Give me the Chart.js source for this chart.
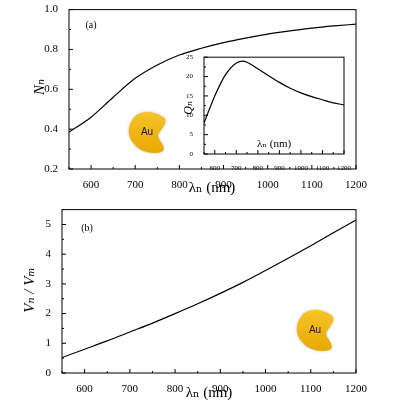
<!DOCTYPE html>
<html>
<head>
<meta charset="utf-8">
<script src="https://cdn.jsdelivr.net/npm/chart.js@4"></script>
<style>
body { margin: 0; background: #fff; }
#wrap { position: relative; width: 400px; height: 400px; }
canvas { position: absolute; }
</style>
</head>
<body>
<div id="wrap">
  <canvas id="topChart" style="left:0;top:0" width="400" height="200"></canvas>
  <canvas id="insetChart" style="left:175px;top:50px" width="180" height="120"></canvas>
  <canvas id="botChart" style="left:0;top:200px" width="400" height="200"></canvas>
</div>
<script>
// data
const lambda = [550, 600, 650, 700, 750, 800, 850, 900, 950, 1000, 1050, 1100, 1150, 1200];
const nValues = [0.385, 0.46, 0.56, 0.655, 0.722, 0.772, 0.806, 0.834, 0.857, 0.877, 0.893, 0.907, 0.918, 0.927];
const vValues = [0.52, 0.8, 1.08, 1.38, 1.68, 2.0, 2.33, 2.68, 3.05, 3.45, 3.86, 4.28, 4.72, 5.15];
const qLambda = [550, 600, 650, 700, 730, 750, 800, 850, 900, 950, 1000, 1050, 1100, 1150, 1200];
const qValues = [8, 15, 20.5, 23.5, 24, 23.7, 22, 20.2, 18.5, 17, 15.8, 14.8, 14, 13.2, 12.7];
const xTicks = [600, 700, 800, 900, 1000, 1100, 1200];
const nTicks = [0.2, 0.4, 0.6, 0.8, 1.0];
const vTicks = [0, 1, 2, 3, 4, 5];
const qTicks = [0, 5, 10, 15, 20, 25];

const serif = "'Liberation Serif', 'DejaVu Serif', serif";

function pts(xs, ys) {
    return xs.map((x, i) => ({ x: x, y: ys[i] }));
}

// box + inward ticks (major and minor) + free texts
const frame = {
    id: 'frame',
    afterDraw(chart, args, opts) {
        const c = chart.ctx, a = chart.chartArea;
        c.save();
        c.strokeStyle = '#000';
        c.lineWidth = 1;
        c.strokeRect(a.left, a.top, a.right - a.left, a.bottom - a.top);
        ['x', 'y'].forEach(id => {
            const s = chart.scales[id];
            const vals = s.ticks.map(t => t.value);
            const step = vals[1] - vals[0];
            const all = [];
            vals.forEach(v => { all.push([v, 4]); all.push([v - step / 2, 2]); });
            all.push([vals[vals.length - 1] + step / 2, 2]);
            all.forEach(([v, len]) => {
                if (v < s.min || v > s.max) return;
                const p = s.getPixelForValue(v);
                c.beginPath();
                if (id === 'x') { c.moveTo(p, a.bottom); c.lineTo(p, a.bottom - len); }
                else { c.moveTo(a.left, p); c.lineTo(a.left + len, p); }
                c.stroke();
            });
        });
        (opts.texts || []).forEach(t => {
            c.save();
            c.translate(t.x, t.y);
            if (t.rot) c.rotate(-Math.PI / 2);
            c.font = t.font;
            c.fillStyle = '#000';
            c.textAlign = 'center';
            c.textBaseline = 'middle';
            c.fillText(t.text, 0, 0);
            c.restore();
        });
        if (opts.blob) drawAu(c, opts.blob[0], opts.blob[1]);
        c.restore();
    }
};

function drawAu(c, x, y) {
    // gold nanoparticle sketch
    c.save();
    c.translate(x, y);
    const g = c.createLinearGradient(0, -20, 0, 22);
    g.addColorStop(0, '#f7c42a');
    g.addColorStop(1, '#e8a800');
    c.fillStyle = g;
    c.shadowColor = 'rgba(0,0,0,0.25)';
    c.shadowBlur = 3;
    c.beginPath();
    c.moveTo(-14, -12);
    c.bezierCurveTo(-8, -22, 8, -20, 16, -14);
    c.bezierCurveTo(22, -10, 16, -4, 12, 2);
    c.bezierCurveTo(8, 8, 20, 14, 16, 20);
    c.bezierCurveTo(10, 24, -6, 22, -12, 14);
    c.bezierCurveTo(-20, 6, -20, -4, -14, -12);
    c.closePath();
    c.fill();
    c.shadowBlur = 0;
    c.fillStyle = '#222';
    c.font = "10px 'Liberation Sans', sans-serif";
    c.textAlign = 'center';
    c.textBaseline = 'middle';
    c.fillText('Au', 0, 1);
    c.restore();
}

function makeChart(id, data, cfg) {
    return new Chart(document.getElementById(id), {
        type: 'line',
        data: { datasets: [{ data: data, borderColor: '#000', borderWidth: 1.2, pointRadius: 0, cubicInterpolationMode: 'monotone', fill: false }] },
        plugins: [frame],
        options: {
            responsive: false,
            animation: false,
            layout: { padding: cfg.padding },
            plugins: { legend: { display: false }, tooltip: { enabled: false }, frame: cfg.frame },
            scales: {
                x: {
                    type: 'linear', min: 550, max: 1200,
                    afterBuildTicks: s => { s.ticks = xTicks.map(v => ({ value: v })); },
                    afterFit: s => { s.height = cfg.xHeight; },
                    grid: { display: false },
                    border: { display: false },
                    ticks: { color: '#000', font: { family: serif, size: cfg.tickSize }, padding: 2, maxRotation: 0, autoSkip: false, callback: v => String(v) }
                },
                y: {
                    min: cfg.yMin, max: cfg.yMax,
                    afterBuildTicks: s => { s.ticks = cfg.yTicks.map(v => ({ value: v })); },
                    afterFit: s => { s.width = cfg.yWidth; },
                    grid: { display: false },
                    border: { display: false },
                    ticks: { color: '#000', font: { family: serif, size: cfg.tickSize }, padding: 3, callback: cfg.yFmt }
                }
            }
        }
    });
}

const big = '15px ' + serif;
const bigIt = 'italic 15px ' + serif;

makeChart('topChart', pts(lambda, nValues), {
    padding: { left: 0, right: 44, top: 5, bottom: 0 },
    xHeight: 31, yWidth: 69, tickSize: 11,
    yMin: 0.2, yMax: 1.0, yTicks: nTicks, yFmt: v => v.toFixed(1),
    frame: { texts: [
        { text: '(a)', x: 91, y: 25, font: '10px ' + serif },
        { text: 'λₙ (nm)', x: 212, y: 188, font: big },
        { text: 'Nₙ', x: 40, y: 87, font: bigIt, rot: true }
    ], blob: [147, 131] }
});

makeChart('insetChart', pts(qLambda, qValues), {
    padding: { left: 0, right: 11, top: 6, bottom: 0 },
    xHeight: 16, yWidth: 29, tickSize: 7,
    yMin: 0, yMax: 25, yTicks: qTicks, yFmt: v => v,
    frame: { texts: [
        { text: 'λₙ (nm)', x: 99, y: 94, font: '11px ' + serif },
        { text: 'Qₙ', x: 14, y: 58, font: 'italic 12px ' + serif, rot: true }
    ] }
});

makeChart('botChart', pts(lambda, vValues), {
    padding: { left: 0, right: 44, top: 5, bottom: 0 },
    xHeight: 27, yWidth: 62, tickSize: 11,
    yMin: 0, yMax: 5.5, yTicks: vTicks, yFmt: v => v,
    frame: { texts: [
        { text: '(b)', x: 87, y: 28, font: '10px ' + serif },
        { text: 'λₙ (nm)', x: 209, y: 193, font: big },
        { text: 'Vₙ / Vₘ', x: 30, y: 90, font: bigIt, rot: true }
    ], blob: [315, 129] }
});
</script>
</body>
</html>
